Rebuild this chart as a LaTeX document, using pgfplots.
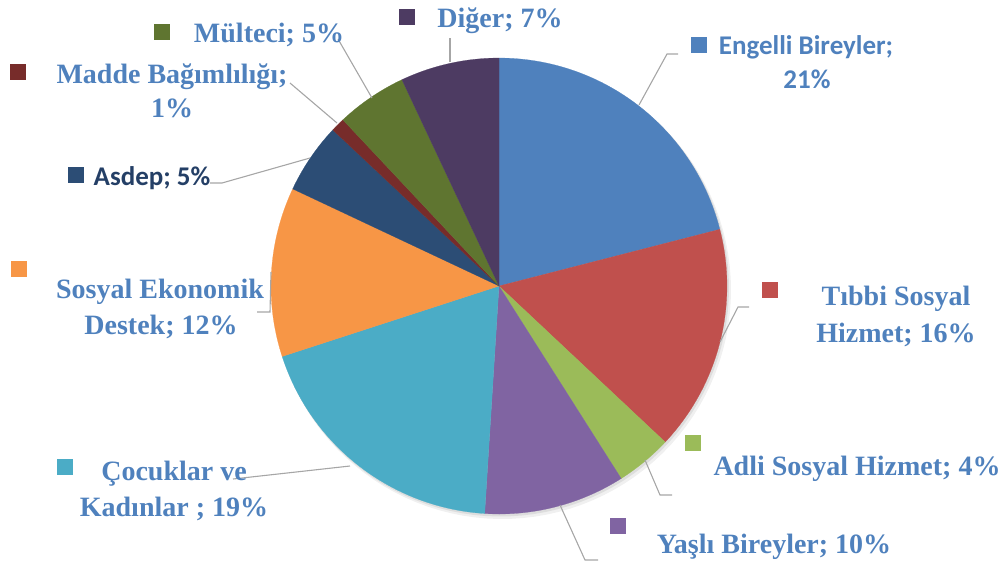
\documentclass[border=0pt]{standalone}
\usepackage{fontspec}
\setmainfont{Liberation Serif}
\newfontfamily\calibri{Carlito}
\usepackage{pgfplots}
\pgfplotsset{compat=1.18}
\definecolor{c1}{HTML}{4F81BD}
\definecolor{c2}{HTML}{C0504D}
\definecolor{c3}{HTML}{9BBB59}
\definecolor{c4}{HTML}{8064A2}
\definecolor{c5}{HTML}{4BACC6}
\definecolor{c6}{HTML}{F79646}
\definecolor{c7}{HTML}{2C4D75}
\definecolor{c8}{HTML}{772C2A}
\definecolor{c9}{HTML}{5F7530}
\definecolor{c10}{HTML}{4D3B62}
\definecolor{txt}{HTML}{4F81BD}
\definecolor{txtdark}{HTML}{243F66}
\definecolor{lead}{HTML}{A6A6A6}
% cumulative percentages: 0 21 37 41 51 70 82 87 88 93 100
\newcommand{\cx}{499}
\newcommand{\cy}{286}
\newcommand{\R}{228}
\newcommand{\slice}[3]{% color, cum start, cum end
  \addplot[fill=#1, draw=#1, line width=0.2pt, domain={90-3.6*#3}:{90-3.6*#2}, samples=60, variable=\t]
    ({\cx+\R*cos(\t)},{\cy-\R*sin(\t)}) -- (axis cs:\cx,\cy) -- cycle;
}
\begin{document}
\begin{tikzpicture}
\begin{axis}[
  scale only axis, width=1005pt, height=566pt,
  xmin=0, xmax=1005, ymin=0, ymax=566, y dir=reverse,
  hide axis, clip=false,
]
\path (axis cs:0,0) rectangle (axis cs:1005,566);
% soft shadow
\addplot[fill=black, opacity=0.06, draw=none, domain=0:360, samples=120, variable=\t]
  ({\cx+3+(\R+1)*cos(\t)},{\cy+4-(\R+1)*sin(\t)}) -- cycle;
\addplot[fill=black, opacity=0.08, draw=none, domain=0:360, samples=120, variable=\t]
  ({\cx+1.5+(\R+0.5)*cos(\t)},{\cy+2-(\R+0.5)*sin(\t)}) -- cycle;
% slices (percent): 21,16,4,10,19,12,5,1,5,7
\slice{c1}{0}{21}
\slice{c2}{21}{37}
\slice{c3}{37}{41}
\slice{c4}{41}{51}
\slice{c5}{51}{70}
\slice{c6}{70}{82}
\slice{c7}{82}{87}
\slice{c8}{87}{88}
\slice{c9}{88}{93}
\slice{c10}{93}{100}
% leader lines
\addplot[lead, line width=1.1pt, no marks] coordinates {(639,105) (667,54) (678,54)};
\addplot[lead, line width=1.1pt, no marks] coordinates {(720,342) (738,307) (749,307)};
\addplot[lead, line width=1.1pt, no marks] coordinates {(645,460) (660,495) (672,495)};
\addplot[lead, line width=1.1pt, no marks] coordinates {(560,505) (585,560) (598,560)};
\addplot[lead, line width=1.1pt, no marks] coordinates {(350,466) (233,479)};
\addplot[lead, line width=1.1pt, no marks] coordinates {(271,272) (270,312) (257,312)};
\addplot[lead, line width=1.1pt, no marks] coordinates {(310,158) (222,183) (210,183)};
\addplot[lead, line width=1.1pt, no marks] coordinates {(337,123) (290,83)};
\addplot[lead, line width=1.1pt, no marks] coordinates {(372,98) (338,39)};
\addplot[lead, line width=1.1pt, no marks] coordinates {(450,62) (450,38)};
% legend keys
\addplot[only marks, mark=square*, mark size=7.5pt, c1] coordinates {(699,45)};
\addplot[only marks, mark=square*, mark size=7.5pt, c2] coordinates {(770,290)};
\addplot[only marks, mark=square*, mark size=7.5pt, c3] coordinates {(693,443)};
\addplot[only marks, mark=square*, mark size=7.5pt, c4] coordinates {(618,526)};
\addplot[only marks, mark=square*, mark size=7.5pt, c5] coordinates {(65,467)};
\addplot[only marks, mark=square*, mark size=7.5pt, c6] coordinates {(19,269)};
\addplot[only marks, mark=square*, mark size=7.5pt, c7] coordinates {(76,175)};
\addplot[only marks, mark=square*, mark size=7.5pt, c8] coordinates {(18,72)};
\addplot[only marks, mark=square*, mark size=7.5pt, c9] coordinates {(162,32)};
\addplot[only marks, mark=square*, mark size=7.5pt, c10] coordinates {(407,17)};
% labels
\tikzset{sl/.style={anchor=base, inner sep=0pt, text=txt, font=\fontsize{28}{34}\selectfont\bfseries},
         cl/.style={anchor=base, inner sep=0pt, text=txt, font=\fontsize{27}{32}\selectfont\calibri\bfseries}}
\node[cl] at (axis cs:806,54) {Engelli Bireyler;};
\node[cl] at (axis cs:807,88) {21\%};
\node[sl] at (axis cs:896,305) {Tıbbi Sosyal};
\node[sl] at (axis cs:896,342) {Hizmet; 16\%};
\node[sl] at (axis cs:857,475) {Adli Sosyal Hizmet; 4\%};
\node[sl] at (axis cs:774,553) {Yaşlı Bireyler; 10\%};
\node[sl] at (axis cs:174,480) {Çocuklar ve};
\node[sl] at (axis cs:174,516) {Kadınlar ; 19\%};
\node[sl] at (axis cs:160,298) {Sosyal Ekonomik};
\node[sl] at (axis cs:161,334) {Destek; 12\%};
\node[cl, text=txtdark] at (axis cs:152,185) {Asdep; 5\%};
\node[sl] at (axis cs:172,83) {Madde Bağımlılığı;};
\node[sl] at (axis cs:172,117) {1\%};
\node[sl] at (axis cs:269,42) {Mülteci; 5\%};
\node[sl] at (axis cs:500,27) {Diğer; 7\%};
\end{axis}
\end{tikzpicture}
\end{document}
